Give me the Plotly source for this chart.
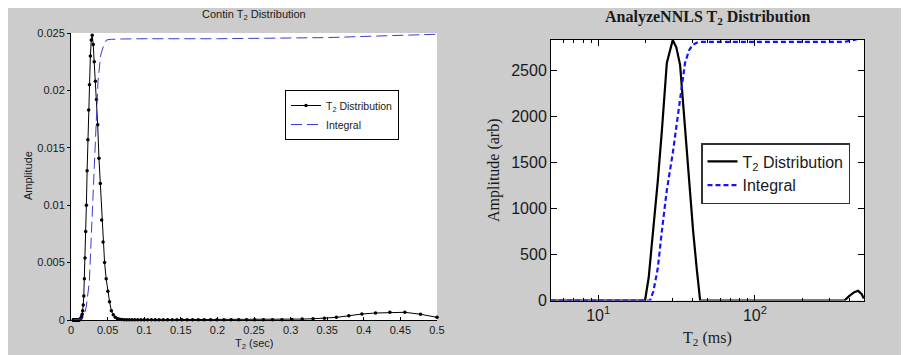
import plotly.graph_objects as go

# page body has an 8px margin: figure pixel = screen pixel - 8
OFF = 8
W, H = 895, 347

# ---------------- data: CONTIN (left panel) ----------------
contin_t2_sec = [
    0.00320, 0.00335, 0.00350, 0.00367, 0.00384, 0.00402, 0.00421, 0.00441, 0.00462, 0.00483,
    0.00506, 0.00530, 0.00555, 0.00581, 0.00608, 0.00637, 0.00667, 0.00698, 0.00731, 0.00765,
    0.00801, 0.00839, 0.00878, 0.00919, 0.00963, 0.01008, 0.01055, 0.01105, 0.01157, 0.01211,
    0.01268, 0.01328, 0.01390, 0.01455, 0.01524, 0.01596, 0.01671, 0.01749, 0.01831, 0.01917,
    0.02008, 0.02102, 0.02201, 0.02304, 0.02412, 0.02526, 0.02645, 0.02769, 0.02899, 0.03035,
    0.03178, 0.03327, 0.03484, 0.03647, 0.03819, 0.03998, 0.04186, 0.04383, 0.04589, 0.04805,
    0.05030, 0.05267, 0.05514, 0.05774, 0.06045, 0.06329, 0.06627, 0.06938, 0.07264, 0.07606,
    0.07963, 0.08338, 0.08729, 0.09140, 0.09569, 0.10019, 0.10490, 0.10983, 0.11499, 0.12040,
    0.12605, 0.13198, 0.13818, 0.14468, 0.15148, 0.15860, 0.16605, 0.17386, 0.18203, 0.19058,
    0.19954, 0.20892, 0.21874, 0.22902, 0.23978, 0.25105, 0.26285, 0.27521, 0.28814, 0.30168,
    0.31586, 0.33071, 0.34625, 0.36252, 0.37956, 0.39740, 0.41608, 0.43563, 0.45610, 0.47755,
    0.50000,
]
contin_amp = [
    0.0, 0.0, 0.0, 0.0, 0.0, 0.0, 0.0, 0.0, 0.0, 0.0,
    0.0, 0.0, 0.0, 0.0, 0.0, 0.0, 0.0, 0.0, 0.0, 0.0,
    0.0, 0.0, 0.0, 0.0, 0.0, 0.0, 0.0, 0.0, 0.00002, 0.00004,
    0.00007, 0.00012, 0.0002, 0.0003, 0.0005, 0.0008, 0.0013, 0.0021, 0.0036, 0.0054,
    0.0077, 0.0100, 0.0130, 0.0157, 0.0183, 0.0205, 0.0230, 0.0244, 0.0248, 0.0240,
    0.0225, 0.0208, 0.0192, 0.0170, 0.0141, 0.0119, 0.0087, 0.0068, 0.0050, 0.0036,
    0.0025, 0.0016, 0.0008, 0.00045, 0.00025, 0.00013, 0.00007, 0.00004, 0.00002, 0.00002,
    0.00002, 0.00002, 0.00002, 0.00002, 0.00002, 0.00002, 0.00002, 0.00002, 0.00002, 0.00002,
    0.00002, 0.00002, 0.00002, 0.00002, 0.00002, 0.00002, 0.00002, 0.00002, 0.00002, 0.00002,
    0.00002, 0.00002, 0.00002, 0.00002, 0.00002, 0.00002, 0.00002, 0.00002, 0.00003, 0.00005,
    0.00008, 0.00011, 0.00016, 0.00023, 0.00037, 0.00052, 0.00061, 0.00067, 0.00067, 0.00050,
    0.00023,
]
contin_int_t2 = [0.0032, 0.015, 0.018, 0.021, 0.025, 0.0283, 0.0314, 0.0342, 0.0369, 0.0406,
                 0.045, 0.0488, 0.055, 0.07, 0.1, 0.2, 0.3, 0.35, 0.4, 0.45, 0.5]
contin_int = [0.0, 0.0001, 0.0004, 0.0012, 0.0033, 0.0083, 0.0129, 0.0174, 0.0208, 0.0231,
              0.0240, 0.0244, 0.02445, 0.02448, 0.0245, 0.0245, 0.02455, 0.0246, 0.0247, 0.0248, 0.02489]

contin_xticks = [0, 0.05, 0.1, 0.15, 0.2, 0.25, 0.3, 0.35, 0.4, 0.45, 0.5]
contin_xlabels = ["0", "0.05", "0.1", "0.15", "0.2", "0.25", "0.3", "0.35", "0.4", "0.45", "0.5"]
contin_yticks = [0, 0.005, 0.01, 0.015, 0.02, 0.025]
contin_ylabels = ["0", "0.005", "0.01", "0.015", "0.02", "0.025"]

# ---------------- data: AnalyzeNNLS (right panel) ----------------
nnls_t2_ms = [5.0, 10.0, 19.9, 21.0, 22.5, 24.0, 25.5, 27.4, 29.9, 31.5, 33.3, 35.8, 38.0,
              40.3, 42.5, 44.7, 100.0, 372.0, 400.0, 430.0, 455.0, 480.0, 494.0]
nnls_amp = [0, 0, 0, 250, 760, 1300, 1850, 2580, 2830, 2750, 2560, 1850, 1300,
            760, 350, 0, 0, 0, 50, 90, 105, 70, 20]
nnls_int_t2 = [5.0, 20.0, 21.4, 22.5, 24.0, 25.5, 27.4, 29.9, 31.5, 33.3, 35.8, 38.0,
               40.3, 42.5, 45.0, 100.0, 372.0, 430.0, 470.0, 494.0]
nnls_int = [0, 0, 0, 100, 350, 760, 1200, 1600, 1900, 2215, 2580, 2720,
            2780, 2800, 2810, 2810, 2810, 2830, 2850, 2860]

nnls_xticks = [10, 100]
nnls_xlabels = ["10<sup>1</sup>", "10<sup>2</sup>"]
nnls_minor = [6, 7, 8, 9, 20, 30, 40, 50, 60, 70, 80, 90, 200, 300, 400]
nnls_yticks = [0, 500, 1000, 1500, 2000, 2500]
nnls_ylabels = ["0", "500", "1000", "1500", "2000", "2500"]


def px(x):
    return (x - OFF) / W


def py(y):
    return 1 - (y - OFF) / H


SANS = "Liberation Sans, Arial, sans-serif"
SERIF = "Liberation Serif, Times New Roman, serif"
TXT = "#1a1a1a"

fig = go.Figure()

# left panel
fig.add_trace(go.Scatter(
    x=contin_t2_sec, y=contin_amp, mode="lines+markers", name="T<sub>2</sub> Distribution",
    line=dict(color="black", width=1), marker=dict(color="black", size=3.5, symbol="circle"),
    xaxis="x", yaxis="y", legend="legend", cliponaxis=False))
fig.add_trace(go.Scatter(
    x=contin_int_t2, y=contin_int, mode="lines", name="Integral",
    line=dict(color="#3a3ad2", width=1, dash="11px,5px"),
    xaxis="x", yaxis="y", legend="legend"))

# right panel
fig.add_trace(go.Scatter(
    x=nnls_t2_ms, y=nnls_amp, mode="lines", name="T<sub>2</sub> Distribution",
    line=dict(color="black", width=2.2),
    xaxis="x2", yaxis="y2", legend="legend2"))
fig.add_trace(go.Scatter(
    x=nnls_int_t2, y=nnls_int, mode="lines", name="Integral",
    line=dict(color="#1414ff", width=2.2, dash="5px,3px"),
    xaxis="x2", yaxis="y2", legend="legend2"))

# screen-pixel boxes of the two plot areas in the reference
L_x0, L_x1, L_y0, L_y1 = 71, 437, 33, 320
R_x0, R_x1, R_y0, R_y1 = 551, 864, 40, 300.5

fig.update_layout(
    width=W, height=H,
    margin=dict(l=0, r=0, t=0, b=0),
    paper_bgcolor="#cccccc",
    plot_bgcolor="white",
    showlegend=True,
    xaxis=dict(domain=[px(L_x0), px(L_x1)], anchor="y", range=[0, 0.5],
               tickmode="array", tickvals=contin_xticks, ticktext=contin_xlabels,
               ticks="inside", ticklen=3, tickcolor="black",
               showline=True, linecolor="black", linewidth=1,
               showgrid=False, zeroline=False, automargin=False,
               tickfont=dict(family=SANS, size=11, color=TXT)),
    yaxis=dict(domain=[py(L_y1), py(L_y0)], anchor="x", range=[0, 0.025],
               tickmode="array", tickvals=contin_yticks, ticktext=contin_ylabels,
               ticks="outside", ticklen=3, tickcolor="black",
               showline=True, linecolor="black", linewidth=1,
               showgrid=False, zeroline=False, automargin=False,
               tickfont=dict(family=SANS, size=11, color=TXT)),
    xaxis2=dict(domain=[px(R_x0), px(R_x1)], anchor="y2", type="log",
                range=[0.699, 2.6955],
                tickmode="array", tickvals=nnls_xticks, ticktext=nnls_xlabels,
                ticks="inside", ticklen=6, tickcolor="black",
                minor=dict(tickmode="array", tickvals=nnls_minor, ticks="inside",
                           ticklen=3, tickcolor="black"),
                showline=True, linecolor="black", linewidth=1, mirror="ticks",
                showgrid=False, zeroline=False, automargin=False,
                tickfont=dict(family=SANS, size=16, color=TXT)),
    yaxis2=dict(domain=[py(R_y1), py(R_y0)], anchor="x2", range=[0, 2830],
                tickmode="array", tickvals=nnls_yticks, ticktext=nnls_ylabels,
                ticks="inside", ticklen=6, tickcolor="black",
                showline=True, linecolor="black", linewidth=1, mirror="ticks",
                showgrid=False, zeroline=False, automargin=False,
                tickfont=dict(family=SANS, size=16, color=TXT)),
    legend=dict(x=px(285), y=py(90), xanchor="left", yanchor="top",
                bgcolor="white", bordercolor="black", borderwidth=1,
                font=dict(family=SANS, size=10.5, color=TXT),
                tracegroupgap=0, itemwidth=30),
    legend2=dict(x=px(701), y=py(143), xanchor="left", yanchor="top",
                 bgcolor="white", bordercolor="#333333", borderwidth=1.5,
                 font=dict(family=SANS, size=16, color=TXT),
                 tracegroupgap=0, itemwidth=30),
    annotations=[
        dict(text="Contin T<sub>2</sub> Distribution", x=px(254), y=py(15),
             xref="paper", yref="paper", showarrow=False, xanchor="center", yanchor="middle",
             font=dict(family=SANS, size=11, color=TXT)),
        dict(text="T<sub>2</sub> (sec)", x=px(254), y=py(344),
             xref="paper", yref="paper", showarrow=False, xanchor="center", yanchor="middle",
             font=dict(family=SANS, size=11, color=TXT)),
        dict(text="Amplitude", x=px(28), y=py(176), textangle=-90,
             xref="paper", yref="paper", showarrow=False, xanchor="center", yanchor="middle",
             font=dict(family=SANS, size=11, color=TXT)),
        dict(text="<b>AnalyzeNNLS T<sub>2</sub> Distribution</b>", x=px(707), y=py(18),
             xref="paper", yref="paper", showarrow=False, xanchor="center", yanchor="middle",
             font=dict(family=SERIF, size=16, color=TXT)),
        dict(text="T<sub>2</sub> (ms)", x=px(707), y=py(338),
             xref="paper", yref="paper", showarrow=False, xanchor="center", yanchor="middle",
             font=dict(family=SERIF, size=16, color=TXT)),
        dict(text="Amplitude (arb)", x=px(494), y=py(170), textangle=-90,
             xref="paper", yref="paper", showarrow=False, xanchor="center", yanchor="middle",
             font=dict(family=SERIF, size=16, color=TXT)),
    ],
)

fig.write_html("out.html")
